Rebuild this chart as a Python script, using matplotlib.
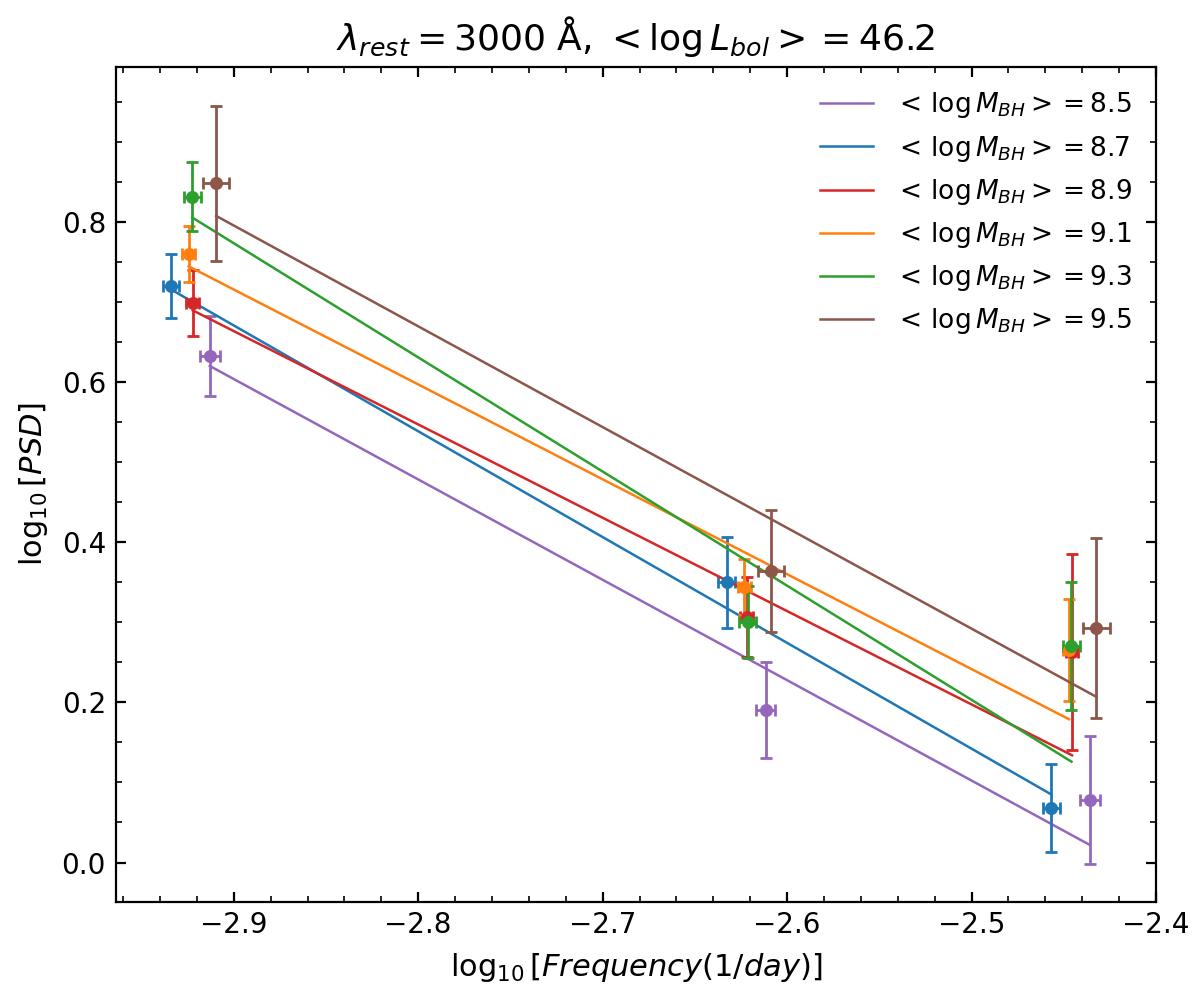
import numpy as np
import matplotlib
matplotlib.use("Agg")
import matplotlib.pyplot as plt
from matplotlib.ticker import MultipleLocator

# mean black hole mass of each bin
mbh_labels = ["8.5", "8.7", "8.9", "9.1", "9.3", "9.5"]
colors = ["tab:purple", "tab:blue", "tab:red", "tab:orange", "tab:green", "tab:brown"]

# log10 frequency of the three bins, per mass bin
log_freq = [
    [-2.9130, -2.6116, -2.4359],
    [-2.9339, -2.6327, -2.4567],
    [-2.9222, -2.6219, -2.4455],
    [-2.9244, -2.6232, -2.4471],
    [-2.9225, -2.6213, -2.4458],
    [-2.9095, -2.6087, -2.4323],
]
freq_err = [0.0053, 0.0045, 0.0035, 0.0035, 0.0045, 0.0072]

# log10 PSD and its errors
log_psd = [
    [0.633, 0.191, 0.078],
    [0.7205, 0.350, 0.068],
    [0.699, 0.307, 0.263],
    [0.761, 0.344, 0.2655],
    [0.832, 0.301, 0.2705],
    [0.849, 0.364, 0.293],
]
psd_err = [
    [0.050, 0.060, 0.080],
    [0.040, 0.057, 0.055],
    [0.041, 0.050, 0.123],
    [0.035, 0.035, 0.064],
    [0.043, 0.045, 0.080],
    [0.097, 0.076, 0.112],
]

# fitted line value at the lowest and highest frequency
fit_start = [0.6205, 0.716, 0.690, 0.745, 0.806, 0.808]
fit_end = [0.022, 0.085, 0.134, 0.179, 0.126, 0.207]

fig = plt.figure(figsize=(6, 4.955), dpi=200)
ax = fig.add_axes([0.0964, 0.0901, 0.8669, 0.8426])

for i in range(len(mbh_labels)):
    x = np.array(log_freq[i])
    y = np.array(log_psd[i])
    ax.errorbar(x, y, xerr=freq_err[i], yerr=psd_err[i], fmt="o", color=colors[i],
                ms=3.7, elinewidth=1, capsize=2, capthick=1)
    ax.plot([x[0], x[-1]], [fit_start[i], fit_end[i]], color=colors[i], lw=0.9,
            label=r"$<\,\log M_{BH}> = %s$" % mbh_labels[i])

ax.set_xlim(-2.964, -2.4)
ax.set_ylim(-0.049, 0.9945)
ax.xaxis.set_major_locator(MultipleLocator(0.1))
ax.xaxis.set_minor_locator(MultipleLocator(0.02))
ax.yaxis.set_major_locator(MultipleLocator(0.2))
ax.yaxis.set_minor_locator(MultipleLocator(0.05))
ax.tick_params(which="both", direction="in", top=True, right=True, labelsize=10)

ax.set_xlabel(r"$\log_{10}[Frequency (1/day)]$", fontsize=11)
ax.set_ylabel(r"$\log_{10}[PSD]$", fontsize=11)
ax.set_title(r"$\lambda_{rest} = 3000$ Å, $<\log L_{bol}> = 46.2$", fontsize=13)
ax.legend(loc="upper right", frameon=False, fontsize=9.5)

fig.savefig("out.png", dpi=200)
